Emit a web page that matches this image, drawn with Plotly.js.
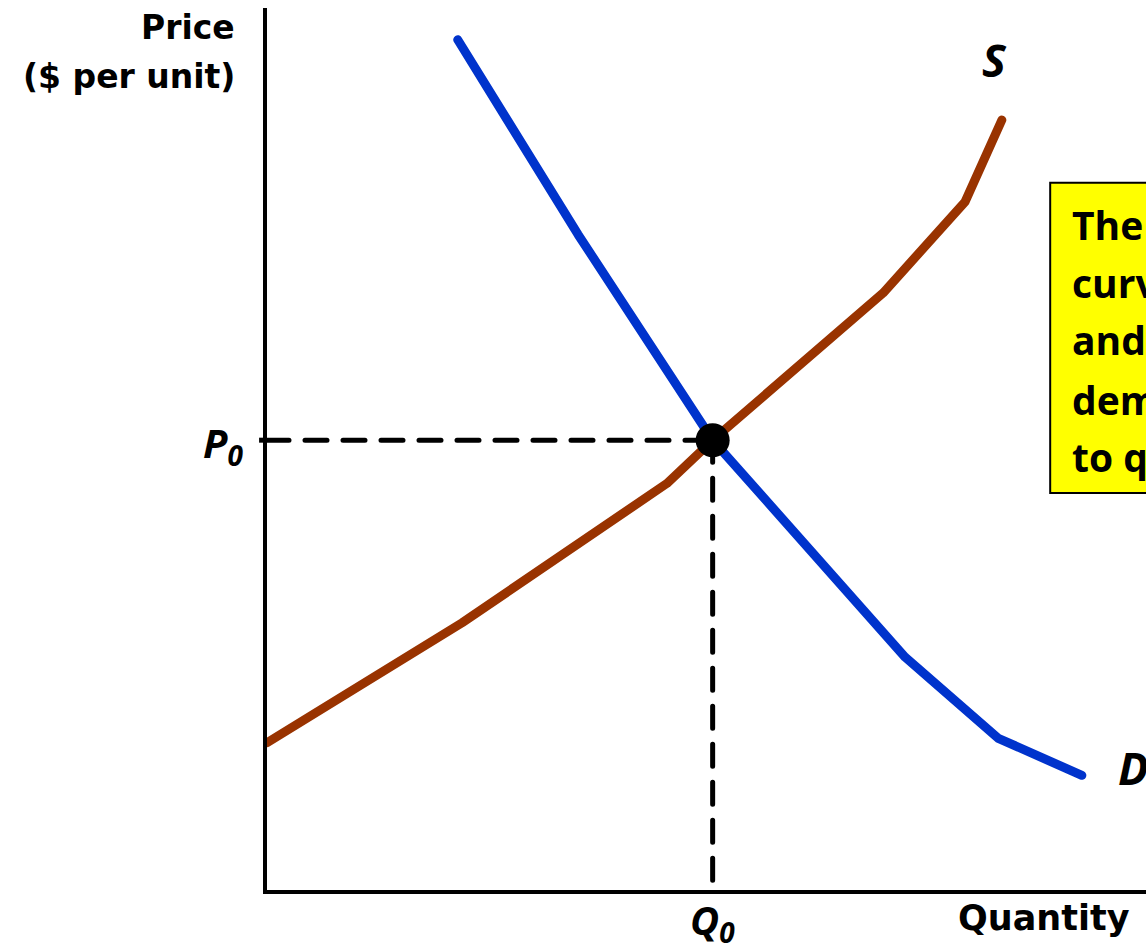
<!DOCTYPE html>
<html>
<head>
<meta charset="utf-8">
<script src="https://cdn.plot.ly/plotly-3.0.1.min.js"></script>
<style>
  html, body { margin: 0; padding: 0; background: #fff; }
  #chart { width: 1146px; height: 950px; }
  .scatterlayer path.js-line { stroke-linecap: round; stroke-linejoin: round; }
</style>
</head>
<body>
<div id="chart"></div>
<script>
// Demand curve D (quantity, price)
var demandQ = [21.7, 35.4, 50.7, 72.6, 83.2, 92.7];
var demandP = [96.4, 74.3, 51.0, 26.4, 17.2, 13.0];
// Supply curve S (quantity, price)
var supplyQ = [0.0, 22.2, 45.5, 50.7, 70.1, 79.4, 83.6];
var supplyP = [16.7, 30.3, 46.1, 51.0, 67.7, 78.0, 87.3];
// Equilibrium
var eqQ = 50.7;
var eqP = 51.0;
// Texts (the note box is cut off at the right edge of the reference)
var yTitleLines = ["Price", "($ per unit)"];
var xTitle = "Quantity";
var boxLines = ["The", "curv", "and", "dem", "to q"];

var OPEN = "'Open Sans', Lato, sans-serif";
var DEJA = "'DejaVu Sans', 'Open Sans', sans-serif";
function f(size, fam) { return { family: fam || OPEN, color: "#000", weight: 700, size: size }; }

var traces = [
  { x: [0, eqQ], y: [eqP, eqP], mode: "lines", line: { color: "#000", width: 5, dash: "22px,16px" }, hoverinfo: "skip", showlegend: false },
  { x: [eqQ, eqQ], y: [eqP, 0], mode: "lines", line: { color: "#000", width: 5, dash: "22px,16px" }, hoverinfo: "skip", showlegend: false },
  { x: demandQ, y: demandP, mode: "lines", line: { color: "#0033CC", width: 9 }, name: "D", showlegend: false },
  { x: supplyQ, y: supplyP, mode: "lines", line: { color: "#993300", width: 9 }, name: "S", showlegend: false },
  { x: [eqQ], y: [eqP], mode: "markers", marker: { color: "#000", size: 34 }, cliponaxis: false, showlegend: false }
];

var annotations = [
  { xref: "paper", yref: "paper", x: -0.034, y: 0.978, xanchor: "right", yanchor: "middle", text: yTitleLines[0], showarrow: false, font: f(33, DEJA) },
  { xref: "paper", yref: "paper", x: -0.034, y: 0.922, xanchor: "right", yanchor: "middle", text: yTitleLines[1], showarrow: false, font: f(33, DEJA) },
  { xref: "paper", yref: "paper", x: -0.025, y: 0.505, xanchor: "right", yanchor: "middle", text: "<i>P<sub>0</sub></i>", showarrow: false, font: f(40) },
  { xref: "paper", yref: "paper", x: (eqQ / 100), y: -0.036, xanchor: "center", yanchor: "middle", text: "<i>Q<sub>0</sub></i>", showarrow: false, font: f(40) },
  { xref: "paper", yref: "paper", x: 0.784, y: -0.032, xanchor: "left", yanchor: "middle", text: xTitle, showarrow: false, font: f(35, DEJA) },
  { xref: "x", yref: "y", x: 82.8, y: 94.2, xanchor: "center", yanchor: "middle", text: "<i>S</i>", showarrow: false, font: f(45) },
  { xref: "x", yref: "y", x: 98.5, y: 13.9, xanchor: "center", yanchor: "middle", text: "<i>D</i>", showarrow: false, font: f(45) }
];
var boxY = [75.4, 68.9, 62.4, 55.6, 49.1];
for (var i = 0; i < boxLines.length; i++) {
  annotations.push({ xref: "x", yref: "y", x: 91.3, y: boxY[i], xanchor: "left", yanchor: "middle", text: boxLines[i], showarrow: false, font: f(39) });
}

var layout = {
  width: 1146, height: 950,
  margin: { l: 267, r: 0, t: 8, b: 60, pad: 0 },
  paper_bgcolor: "#fff", plot_bgcolor: "#fff",
  showlegend: false,
  xaxis: { range: [0, 100], showline: true, linewidth: 4, linecolor: "#000", showgrid: false, zeroline: false,
           showticklabels: false, ticks: "", fixedrange: true },
  yaxis: { range: [0, 100], showline: true, linewidth: 4, linecolor: "#000", showgrid: false, zeroline: false,
           showticklabels: false, ticks: "", fixedrange: true },
  shapes: [
    { type: "rect", xref: "x", yref: "y", x0: 89.1, x1: 112, y0: 45.0, y1: 80.2,
      fillcolor: "#FFFF00", line: { color: "#000", width: 2 }, layer: "below" },
    { type: "line", xref: "paper", yref: "y", x0: -0.009, x1: 0, y0: eqP, y1: eqP,
      line: { color: "#000", width: 5 } }
  ],
  annotations: annotations
};

Plotly.newPlot("chart", traces, layout, { displayModeBar: false, staticPlot: true });
</script>
</body>
</html>
